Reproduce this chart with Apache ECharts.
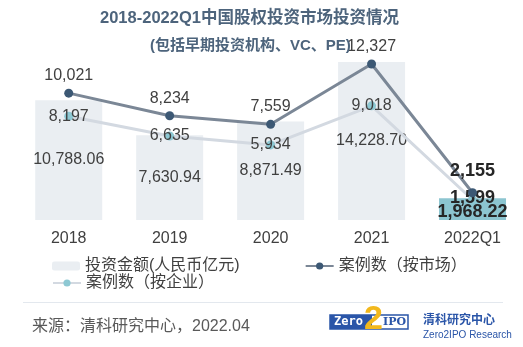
<!DOCTYPE html>
<html>
<head>
<meta charset="utf-8">
<script src="https://cdn.jsdelivr.net/npm/echarts@6/dist/echarts.min.js"></script>
<style>
html,body{margin:0;padding:0;background:#fff;}
#chart{width:523px;height:347px;}
</style>
</head>
<body>
<div id="chart"></div>
<script>
const categories = ['2018', '2019', '2020', '2021', '2022Q1'];
const amountValues = [10788.06, 7630.94, 8871.49, 14228.70, 1968.22];
const marketCases = [10021, 8234, 7559, 12327, 2155];
const enterpriseCases = [8197, 6635, 5934, 9018, 1599];
const seriesNames = ['投资金额(人民币亿元)', '案例数（按市场）', '案例数（按企业）'];

const FONT = "'Liberation Sans', Arial, 'Noto Sans CJK SC', sans-serif";
const BOLDNUM = "'Liberation Sans', Arial, sans-serif";
const fmt = (v, d) => Number(v).toLocaleString('en-US', {minimumFractionDigits: d, maximumFractionDigits: d});
const last = categories.length - 1;

const boldLabel = {fontFamily: BOLDNUM, fontWeight: 'bold', fontSize: 18, color: '#262626'};

const chart = echarts.init(document.getElementById('chart'));
chart.setOption({
  animation: false,
  textStyle: {fontFamily: FONT},
  title: [
    {text: '2018-2022Q1中国股权投资市场投资情况', left: 100, top: 10, padding: 0,
     textStyle: {fontFamily: FONT, fontSize: 16.5, fontWeight: 'bold', color: '#4d647c'}},
    {text: '(包括早期投资机构、VC、PE)', left: 150, top: 38, padding: 0,
     textStyle: {fontFamily: FONT, fontSize: 15, fontWeight: 'bold', color: '#4d647c'}}
  ],
  legend: [
    {data: [seriesNames[0], seriesNames[1]], left: 52, top: 258, padding: 0, itemGap: 65,
     itemWidth: 28, itemHeight: 9, textStyle: {fontFamily: FONT, fontSize: 16, color: '#404040'}},
    {data: [seriesNames[2]], left: 52, top: 275, padding: 0,
     itemWidth: 28, itemHeight: 9, textStyle: {fontFamily: FONT, fontSize: 16, color: '#404040'}}
  ],
  grid: {left: 18.25, width: 507.5, top: 20, height: 200},
  xAxis: {
    type: 'category', data: categories,
    axisLine: {show: false}, axisTick: {show: false},
    axisLabel: {fontFamily: FONT, fontSize: 16, color: '#404040', margin: 11}
  },
  yAxis: [
    {type: 'value', min: 0, max: 18000, show: false, splitLine: {show: false}},
    {type: 'value', min: 0, max: 15800, show: false, splitLine: {show: false}}
  ],
  series: [
    {
      name: seriesNames[0], type: 'bar', yAxisIndex: 0, barWidth: 67,
      itemStyle: {color: '#eaeef2'},
      data: amountValues.map((v, i) => i === last ? {
        value: v, itemStyle: {color: '#8cc5d0'},
        label: Object.assign({offset: [0, 3]}, boldLabel)
      } : v),
      label: {show: true, position: 'inside', fontFamily: FONT, fontSize: 16, color: '#404040',
              formatter: p => fmt(p.value, 2)},
      z: 1
    },
    {
      name: seriesNames[2], type: 'line', yAxisIndex: 1,
      symbol: 'circle', symbolSize: 9,
      lineStyle: {color: '#d3d9e1', width: 3},
      itemStyle: {color: '#8dc8d3'},
      data: enterpriseCases.map((v, i) => i === last ? {
        value: v, label: Object.assign({offset: [0, -2]}, boldLabel)
      } : v),
      label: {show: true, position: 'inside', fontFamily: FONT, fontSize: 16, color: '#404040',
              formatter: p => fmt(p.value, 0)},
      z: 3
    },
    {
      name: seriesNames[1], type: 'line', yAxisIndex: 1,
      symbol: 'circle', symbolSize: 9,
      lineStyle: {color: '#7b8796', width: 3},
      itemStyle: {color: '#3c5874'},
      data: marketCases.map((v, i) => i === last ? {
        value: v, label: Object.assign({distance: 8}, boldLabel)
      } : v),
      label: {show: true, position: 'top', distance: 5, fontFamily: FONT, fontSize: 16, color: '#404040',
              formatter: p => fmt(p.value, 0)},
      z: 4
    }
  ],
  graphic: [
    {type: 'line', shape: {x1: 23, y1: 302.5, x2: 503, y2: 302.5}, style: {stroke: '#e3e8ee', lineWidth: 1}},
    {type: 'text', left: 32, top: 319, style: {text: '来源：清科研究中心，2022.04', fontFamily: FONT, fontSize: 16, fill: '#595959'}},
    {type: 'rect', shape: {x: 330, y: 315, width: 78, height: 14}, style: {fill: '#ffffff', stroke: '#2a55a8', lineWidth: 1.5}},
    {type: 'rect', shape: {x: 330, y: 315, width: 42, height: 14}, style: {fill: '#2a55a8'}},
    {type: 'text', x: 334, y: 316, style: {text: 'Zero', fontFamily: "'DejaVu Sans Mono', monospace", fontWeight: 'bold', fontSize: 12, fill: '#ffffff'}},
    {type: 'text', x: 383, y: 316.5, style: {text: 'IPO', fontFamily: "'DejaVu Serif', serif", fontWeight: 'bold', fontSize: 11, fill: '#2a55a8'}},
    {type: 'text', x: 364, y: 303, style: {text: '2', fontFamily: "'Liberation Sans', sans-serif", fontWeight: 'bold', fontSize: 34, fill: '#f2b81c'}},
    {type: 'text', x: 423, y: 313, style: {text: '清科研究中心', fontFamily: "'Noto Sans CJK SC', sans-serif", fontWeight: 'bold', fontSize: 12, fill: '#2a55a8'}},
    {type: 'text', x: 423, y: 330, style: {text: 'Zero2IPO Research', fontFamily: "'Liberation Sans Narrow', 'Liberation Sans', sans-serif", fontSize: 10, fill: '#2a55a8'}}
  ]
});
</script>
</body>
</html>
